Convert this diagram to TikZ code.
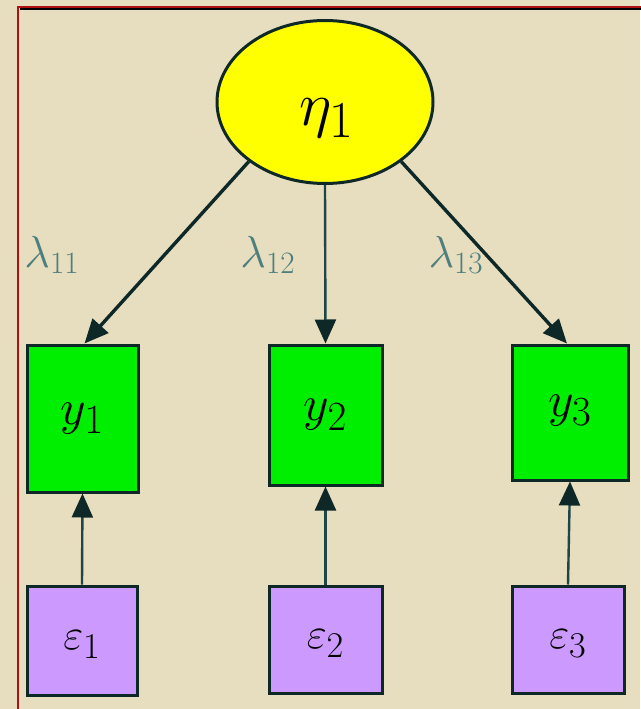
\documentclass[tikz,border=0pt]{standalone}
\usetikzlibrary{shapes.geometric,arrows.meta}
\definecolor{bgbeige}{HTML}{E6DEBE}
\definecolor{framered}{HTML}{B01010}
\definecolor{edgedark}{HTML}{0E2828}
\definecolor{edgeteal}{HTML}{1E4646}
\definecolor{etayellow}{HTML}{FFFF00}
\definecolor{obsgreen}{HTML}{00EE00}
\definecolor{errpurple}{HTML}{CC99FF}
\definecolor{lamcol}{HTML}{4E7E7E}
\tikzset{
  latent/.style={ellipse, draw=edgedark, line width=3pt, fill=etayellow,
    minimum width=216pt, minimum height=163pt, inner sep=0pt},
  obsbox/.style={rectangle, draw=edgedark, line width=3pt, fill=obsgreen,
    inner sep=0pt},
  errbox/.style={rectangle, draw=edgedark, line width=3pt, fill=errpurple,
    inner sep=0pt, minimum height=109pt},
  path/.style={draw=edgedark, line width=3.4pt,
    -{Triangle[length=24pt,width=21pt]}},
  thinpath/.style={draw=edgeteal, line width=2.4pt,
    -{Triangle[length=24pt,width=21pt,color=edgedark]}},
  bigtext/.style={inner sep=0pt, font=\Huge, scale=#1},
  lamlabel/.style={text=lamcol, inner sep=0pt, font=\Huge, scale=1.8}
}
\begin{document}
\begin{tikzpicture}[x=1pt,y=-1pt]
\useasboundingbox (0,0) rectangle (640,709);
\fill[bgbeige] (0,0) rectangle (640,709);
% frame
\draw[framered, line width=2.2pt] (18,712) -- (18,7) -- (643,7);
\draw[black, line width=1.6pt] (19.5,9) -- (643,9);
% latent
\node[latent] (eta) at (325,102) {};
\node[bigtext=2.5] (etatext) at (327,118) {$\eta_1$};
% observed
\node[obsbox, minimum width=111pt, minimum height=147pt] (y1) at (82.5,418.5) {};
\node[obsbox, minimum width=113pt, minimum height=140pt] (y2) at (325.5,415) {};
\node[obsbox, minimum width=116pt, minimum height=135pt] (y3) at (570,412.5) {};
\node[bigtext=2] (y1t) at (y1.center) {$y_1$};
\node[bigtext=2] (y2t) at (y2.center) {$y_2$};
\node[bigtext=2] (y3t) at ([yshift=2pt]y3.center) {$y_3$};
% errors
\node[errbox, minimum width=110pt] (e1) at (82,640.5) {};
\node[errbox, minimum width=113pt, minimum height=107pt] (e2) at (325.5,639.5) {};
\node[errbox, minimum width=112pt, minimum height=107pt] (e3) at (568,639.5) {};
\node[bigtext=1.75] (e1t) at ([yshift=-4pt]e1.center) {$\varepsilon_1$};
\node[bigtext=1.75] (e2t) at ([yshift=-4pt]e2.center) {$\varepsilon_2$};
\node[bigtext=1.75] (e3t) at ([yshift=-4pt]e3.center) {$\varepsilon_3$};
% loadings
\draw[path] (eta.218) -- ([xshift=2pt]y1.north);
\draw[thinpath] (eta.south) -- (y2.north);
\draw[path] (eta.-38) -- ([xshift=-3pt]y3.north);
\draw[thinpath] (e1.north) -- (y1.south);
\draw[thinpath] (e2.north) -- (y2.south);
\draw[thinpath] (e3.north) -- (y3.south);
% labels
\node[lamlabel] (l11) at (52,255) {$\lambda_{\scriptscriptstyle 11}$};
\node[lamlabel] (l12) at (268,255) {$\lambda_{\scriptscriptstyle 12}$};
\node[lamlabel] (l13) at (456,255) {$\lambda_{\scriptscriptstyle 13}$};
\end{tikzpicture}
\end{document}
